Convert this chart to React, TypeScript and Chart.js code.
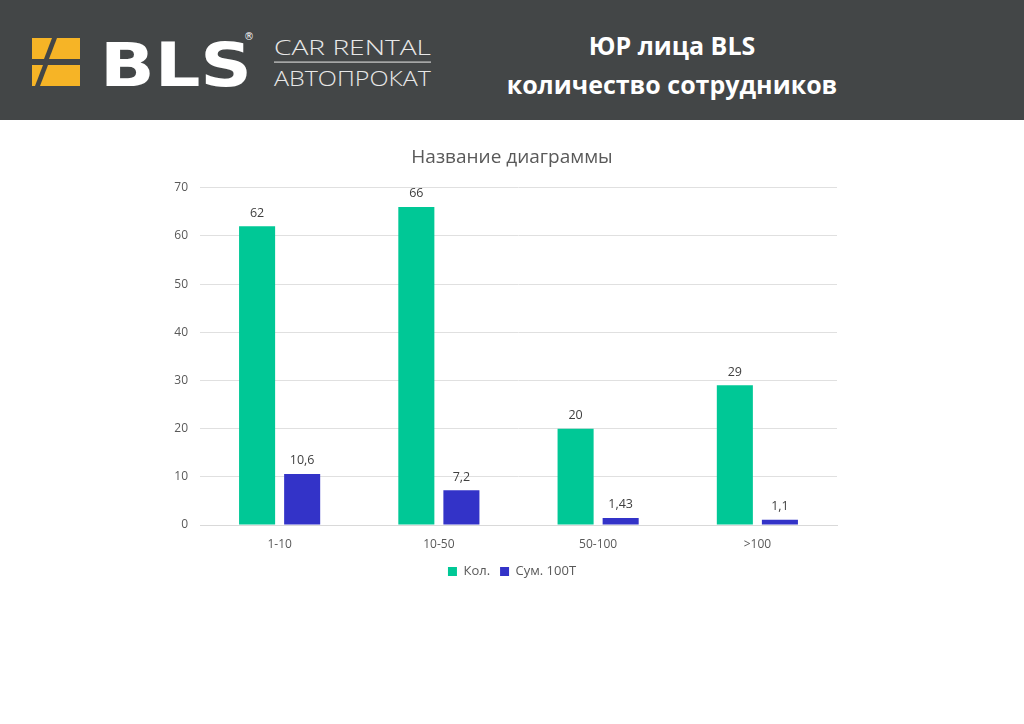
import React, { useEffect, useRef } from "react";
import { Chart, registerables } from "chart.js";

Chart.register(...registerables);

const categories = ["1-10", "10-50", "50-100", ">100"];
const kolValues = [62, 66, 20, 29];
const sumValues = [10.6, 7.2, 1.43, 1.1];
const yTicks = [0, 10, 20, 30, 40, 50, 60, 70];
const seriesNames = ["Кол.", "Сум. 100Т"];
const chartTitle = "Название диаграммы";

const fmt = (v: number) => String(v).replace(".", ",");

const valueLabels = {
  id: "valueLabels",
  afterDatasetsDraw(chart: any) {
    const ctx = chart.ctx;
    ctx.save();
    ctx.font = "12.5px 'Open Sans'";
    ctx.fillStyle = "#404040";
    ctx.textAlign = "center";
    ctx.textBaseline = "bottom";
    chart.data.datasets.forEach((ds: any, i: number) => {
      const meta = chart.getDatasetMeta(i);
      meta.data.forEach((el: any, j: number) => {
        ctx.fillText(fmt(ds.data[j]), el.x, el.y - 7);
      });
    });
    ctx.restore();
  },
};

function Logo() {
  return (
    <svg width="460" height="120" style={{ position: "absolute", left: 0, top: 0 }}>
      <g fill="#F6B426">
        <polygon points="32,38 52,38 44,59 32,59" />
        <polygon points="57,38 80,38 80,59 49,59" />
        <polygon points="32,65 43,65 35,86 32,86" />
        <polygon points="48,65 80,65 80,86 40,86" />
      </g>
      <text x="100" y="86" fill="#ffffff" fontFamily="'DejaVu Sans'" fontWeight="bold" fontSize="60" textLength="152" lengthAdjust="spacingAndGlyphs">BLS</text>
      <text x="244" y="40" fill="#ffffff" fontFamily="'DejaVu Sans'" fontSize="10">®</text>
      <text x="274" y="55" fill="#e8e8e8" fontFamily="'Open Sans'" fontWeight="300" fontSize="21" textLength="157" lengthAdjust="spacingAndGlyphs">CAR RENTAL</text>
      <rect x="274" y="61.5" width="157" height="1.2" fill="#cfcfcf" />
      <text x="274" y="86" fill="#e8e8e8" fontFamily="'Open Sans'" fontWeight="300" fontSize="21" textLength="157" lengthAdjust="spacingAndGlyphs">АВТОПРОКАТ</text>
    </svg>
  );
}

export default function App() {
  const ref = useRef<HTMLCanvasElement>(null);
  useEffect(() => {
    if (!ref.current) return;
    const font = { family: "'Open Sans'", size: 12 };
    const chart = new Chart(ref.current, {
      type: "bar",
      data: {
        labels: categories,
        datasets: [
          { label: seriesNames[0], data: kolValues, backgroundColor: "#00C896", categoryPercentage: 0.566, barPercentage: 0.8, yAxisID: "y" },
          { label: seriesNames[1], data: sumValues, backgroundColor: "#3333C8", categoryPercentage: 0.566, barPercentage: 0.8, yAxisID: "y" },
        ],
      },
      options: {
        animation: false,
        responsive: false,
        maintainAspectRatio: false,
        layout: { padding: { left: 0, right: 0, top: 0, bottom: 136 } },
        plugins: {
          title: {
            display: true,
            text: chartTitle,
            color: "#595959",
            font: { family: "'Open Sans'", size: 19, weight: "normal" },
            padding: { top: 26, bottom: 19 },
          },
          legend: {
            position: "bottom",
            labels: {
              color: "#595959",
              font: { family: "'Open Sans'", size: 13 },
              boxWidth: 9,
              boxHeight: 9,
              padding: 10,
            },
          },
          tooltip: { enabled: false },
        },
        scales: {
          x: {
            grid: { display: false, drawTicks: false },
            border: { color: "#d9d9d9" },
            ticks: { color: "#595959", font, padding: 12 },
            afterFit: (s: any) => { s.height = 30; },
          },
          y: {
            min: 0,
            max: 70,
            afterBuildTicks: (s: any) => { s.ticks = yTicks.map((v) => ({ value: v })); },
            grid: { color: "#e0e0e0", drawTicks: false },
            border: { display: false },
            ticks: { color: "#595959", font, padding: 12 },
            afterFit: (s: any) => { s.width = 200; },
          },
          y2: {
            position: "right",
            min: 0,
            max: 70,
            grid: { display: false, drawTicks: false },
            border: { display: false },
            ticks: { display: false },
            afterFit: (s: any) => { s.width = 187; },
          },
        },
      },
      plugins: [valueLabels],
    });
    return () => chart.destroy();
  }, []);

  return (
    <div style={{ position: "fixed", left: 0, top: 0, width: 1024, height: 724, background: "#ffffff", overflow: "hidden" }}>
      <div style={{ position: "absolute", left: 0, top: 0, width: 1024, height: 120, background: "#434647" }}>
        <Logo />
        <div style={{ position: "absolute", left: 472, width: 400, top: 26, textAlign: "center", color: "#ffffff", fontFamily: "'Open Sans'", fontWeight: "bold", fontSize: 25, lineHeight: "39px" }}>
          <div>ЮР лица BLS</div>
          <div>количество сотрудников</div>
        </div>
      </div>
      <canvas ref={ref} width={1024} height={604} style={{ position: "absolute", left: 0, top: 120, width: 1024, height: 604 }} />
    </div>
  );
}
